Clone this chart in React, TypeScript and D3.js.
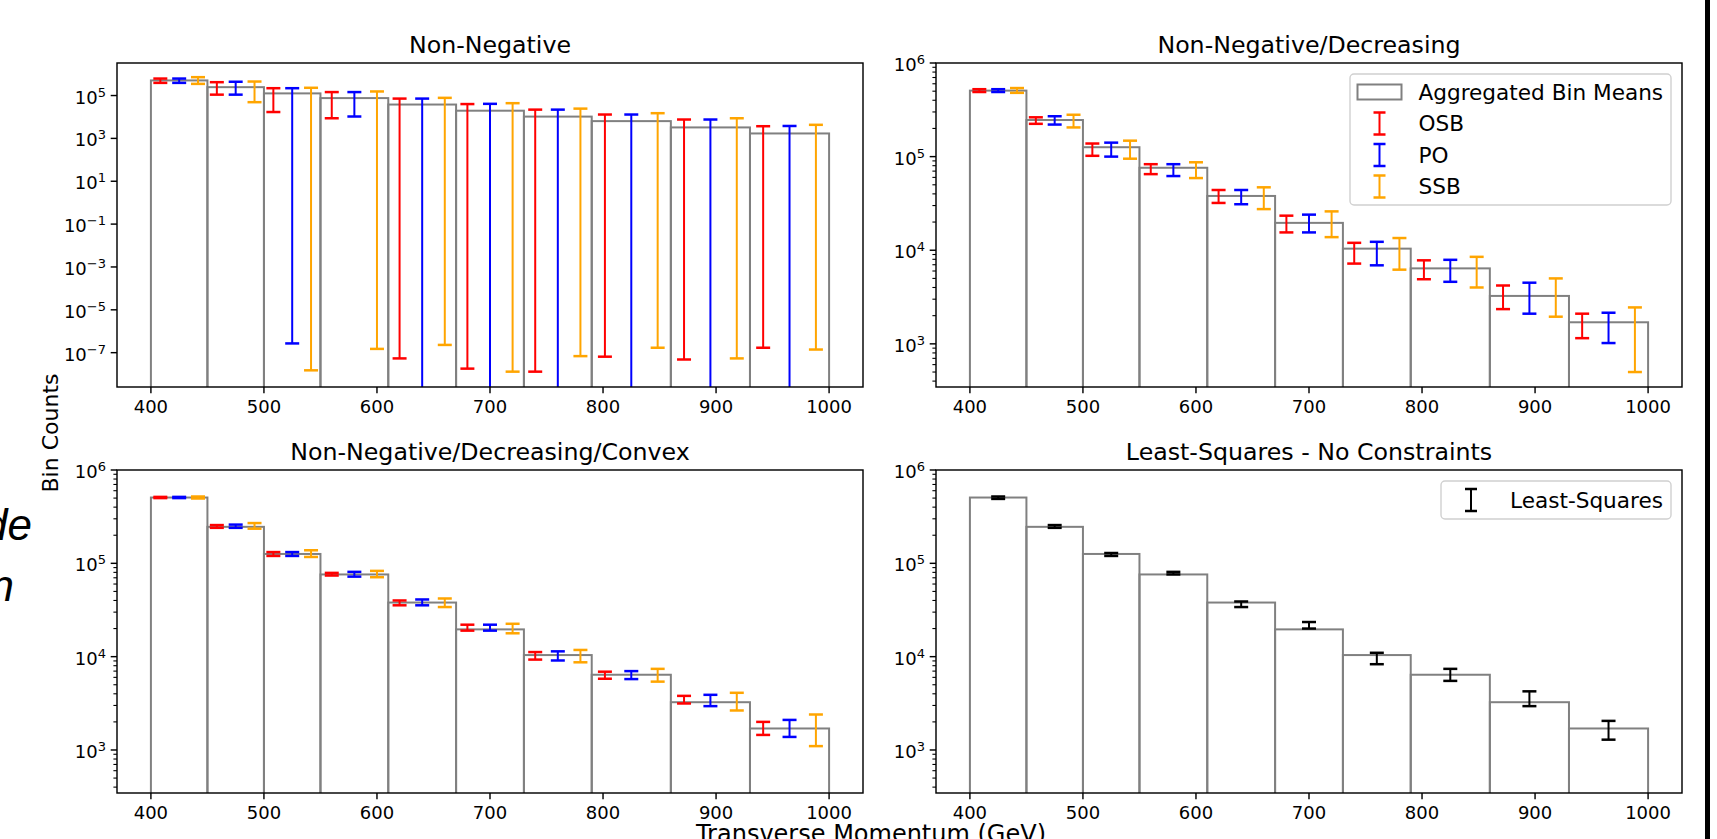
import React from "react";
import * as d3 from "d3";

// ---------- data ----------
const binEdges = [400, 450, 500, 550, 610, 670, 730, 790, 860, 930, 1000];
const binMeans = [5.07e5, 2.46e5, 1.26e5, 7.6e4, 3.8e4, 1.96e4, 1.04e4, 6.4e3, 3.25e3, 1.7e3];
const xTicks = [400, 500, 600, 700, 800, 900, 1000];

// Non-Negative
const nnOsbLo = [3.9e5, 1.1e5, 1.7e4, 8.7e3, 5.4e-8, 1.8e-8, 1.3e-8, 6.5e-8, 4.8e-8, 1.7e-7];
const nnOsbHi = [6.2e5, 4.2e5, 2.2e5, 1.45e5, 7.2e4, 4.0e4, 2.2e4, 1.3e4, 7.6e3, 3.7e3];
const nnPoLo = [3.9e5, 1.1e5, 2.7e-7, 1.05e4, 0, 0, 0, 0, 0, 0];
const nnPoHi = [6.2e5, 4.4e5, 2.2e5, 1.45e5, 7.2e4, 4.1e4, 2.2e4, 1.3e4, 7.6e3, 3.8e3];
const nnSsbLo = [3.5e5, 4.9e4, 1.5e-8, 1.5e-7, 2.3e-7, 1.3e-8, 6.9e-8, 1.7e-7, 5.4e-8, 1.4e-7];
const nnSsbHi = [7.2e5, 4.5e5, 2.3e5, 1.55e5, 7.8e4, 4.4e4, 2.45e4, 1.5e4, 8.7e3, 4.3e3];

// Non-Negative/Decreasing
const ndOsbLo = [4.9e5, 2.24e5, 1.02e5, 6.5e4, 3.2e4, 1.55e4, 7.2e3, 4.9e3, 2.35e3, 1.15e3];
const ndOsbHi = [5.25e5, 2.63e5, 1.38e5, 8.3e4, 4.4e4, 2.34e4, 1.2e4, 7.8e3, 4.2e3, 2.1e3];
const ndPoLo = [4.9e5, 2.2e5, 1.0e5, 6.2e4, 3.1e4, 1.55e4, 6.9e3, 4.6e3, 2.1e3, 1.02e3];
const ndPoHi = [5.25e5, 2.7e5, 1.41e5, 8.3e4, 4.4e4, 2.4e4, 1.23e4, 7.9e3, 4.5e3, 2.15e3];
const ndSsbLo = [4.8e5, 2.05e5, 9.5e4, 5.9e4, 2.75e4, 1.38e4, 6.2e3, 4.0e3, 1.95e3, 500];
const ndSsbHi = [5.4e5, 2.8e5, 1.48e5, 8.7e4, 4.7e4, 2.6e4, 1.35e4, 8.5e3, 5.0e3, 2.45e3];

// Non-Negative/Decreasing/Convex
const ncOsbLo = [5.0e5, 2.4e5, 1.2e5, 7.4e4, 3.55e4, 1.9e4, 9.3e3, 5.8e3, 3.15e3, 1.45e3];
const ncOsbHi = [5.15e5, 2.57e5, 1.32e5, 7.9e4, 4.0e4, 2.2e4, 1.12e4, 6.9e3, 3.8e3, 2.0e3];
const ncPoLo = [5.0e5, 2.4e5, 1.2e5, 7.2e4, 3.55e4, 1.9e4, 9.1e3, 5.75e3, 2.95e3, 1.38e3];
const ncPoHi = [5.15e5, 2.6e5, 1.32e5, 8.1e4, 4.1e4, 2.2e4, 1.14e4, 7.0e3, 3.9e3, 2.1e3];
const ncSsbLo = [4.95e5, 2.35e5, 1.17e5, 7.1e4, 3.4e4, 1.78e4, 8.7e3, 5.4e3, 2.65e3, 1.1e3];
const ncSsbHi = [5.2e5, 2.7e5, 1.38e5, 8.3e4, 4.2e4, 2.25e4, 1.18e4, 7.4e3, 4.1e3, 2.4e3];

// Least-Squares
const lsLo = [4.9e5, 2.4e5, 1.2e5, 7.6e4, 3.4e4, 2.0e4, 8.3e3, 5.5e3, 2.95e3, 1.29e3];
const lsHi = [5.2e5, 2.57e5, 1.29e5, 8.1e4, 3.9e4, 2.35e4, 1.1e4, 7.4e3, 4.25e3, 2.05e3];

const titles = [
  "Non-Negative",
  "Non-Negative/Decreasing",
  "Non-Negative/Decreasing/Convex",
  "Least-Squares - No Constraints",
];
const seriesNames = ["OSB", "PO", "SSB"];
const seriesColors = ["#ff0000", "#0000ff", "#ffa500"];
const nnTicksExp = [5, 3, 1, -1, -3, -5, -7];
const stdTicksExp = [3, 4, 5, 6];

// ---------- layout ----------
const FONT = "'DejaVu Sans', sans-serif";
const TICK_FS = 18;
const TITLE_FS = 23.7;
const LEGEND_FS = 21.6;
const LABEL_FS = 24;
const XDOMAIN: [number, number] = [370, 1030];

type Series = { name: string; color: string; lo: number[]; hi: number[]; pos: "left" | "center" | "right" };

type PanelProps = {
  id: string;
  x0: number;
  y0: number;
  w: number;
  h: number;
  title: string;
  yDomain: [number, number];
  majorExp: number[];
  minor: boolean;
  series: Series[];
  legend: "full" | "ls" | null;
};

function sup(n: number) {
  return n < 0 ? "\u2212" + Math.abs(n) : String(n);
}

function Panel(p: PanelProps) {
  const x = d3.scaleLinear().domain(XDOMAIN).range([p.x0, p.x0 + p.w]);
  const y = d3.scaleLog().domain(p.yDomain).range([p.y0 + p.h, p.y0]);
  const bottom = p.y0 + p.h;
  const yv = (v: number) => (v > 0 ? y(v) : bottom + 20);
  const capHalf = 7;

  const minorTicks: number[] = [];
  if (p.minor) {
    const lo = Math.floor(Math.log10(p.yDomain[0]));
    const hi = Math.ceil(Math.log10(p.yDomain[1]));
    for (let e = lo; e < hi; e++) {
      for (let m = 2; m <= 9; m++) {
        const v = m * Math.pow(10, e);
        if (v >= p.yDomain[0] && v <= p.yDomain[1]) minorTicks.push(v);
      }
    }
  }

  const xPos = (i: number, pos: Series["pos"]) => {
    const a = binEdges[i];
    const b = binEdges[i + 1];
    const c = (a + b) / 2;
    const off = (b - a) / 3;
    return pos === "left" ? c - off : pos === "right" ? c + off : c;
  };

  return (
    <g>
      <defs>
        <clipPath id={p.id}>
          <rect x={p.x0} y={p.y0} width={p.w} height={p.h} />
        </clipPath>
      </defs>
      <g clipPath={`url(#${p.id})`}>
        {binMeans.map((m, i) => (
          <rect
            key={"b" + i}
            x={x(binEdges[i])}
            y={y(m)}
            width={x(binEdges[i + 1]) - x(binEdges[i])}
            height={bottom + 5 - y(m)}
            fill="none"
            stroke="#808080"
            strokeWidth={2}
          />
        ))}
        {p.series.map((s) =>
          s.lo.map((lo, i) => {
            const cx = x(xPos(i, s.pos));
            const yt = y(s.hi[i]);
            const yb = yv(lo);
            return (
              <g key={s.name + i} stroke={s.color} strokeWidth={2}>
                <line x1={cx} x2={cx} y1={yt} y2={yb} />
                <line x1={cx - capHalf} x2={cx + capHalf} y1={yt} y2={yt} strokeWidth={2.5} />
                <line x1={cx - capHalf} x2={cx + capHalf} y1={yb} y2={yb} strokeWidth={2.5} />
              </g>
            );
          })
        )}
      </g>
      {/* frame */}
      <rect x={p.x0} y={p.y0} width={p.w} height={p.h} fill="none" stroke="#000" strokeWidth={1.44} />
      {/* x ticks */}
      {xTicks.map((t) => (
        <g key={"xt" + t}>
          <line x1={x(t)} x2={x(t)} y1={bottom} y2={bottom + 6.3} stroke="#000" strokeWidth={1.44} />
          <text x={x(t)} y={bottom + 26} textAnchor="middle" fontSize={TICK_FS} fontFamily={FONT} fill="#000">
            {t}
          </text>
        </g>
      ))}
      {/* y ticks */}
      {p.majorExp.map((e) => {
        const yy = y(Math.pow(10, e));
        return (
          <g key={"yt" + e}>
            <line x1={p.x0 - 6.3} x2={p.x0} y1={yy} y2={yy} stroke="#000" strokeWidth={1.44} />
            <text x={p.x0 - 11} y={yy + 8} textAnchor="end" fontSize={TICK_FS} fontFamily={FONT} fill="#000">
              <tspan>10</tspan>
              <tspan dy={-7} fontSize={13}>
                {sup(e)}
              </tspan>
            </text>
          </g>
        );
      })}
      {minorTicks.map((v, i) => (
        <line key={"mt" + i} x1={p.x0 - 3.6} x2={p.x0} y1={y(v)} y2={y(v)} stroke="#000" strokeWidth={1.1} />
      ))}
      {/* title */}
      <text x={p.x0 + p.w / 2} y={p.y0 - 10} textAnchor="middle" fontSize={TITLE_FS} fontFamily={FONT} fill="#000">
        {p.title}
      </text>
      {p.legend === "full" && <FullLegend x0={p.x0 + p.w - 11} y0={p.y0 + 11} />}
      {p.legend === "ls" && <LsLegend x0={p.x0 + p.w - 11} y0={p.y0 + 11} />}
    </g>
  );
}

function ErrIcon({ cx, cy, color }: { cx: number; cy: number; color: string }) {
  return (
    <g stroke={color} strokeWidth={2}>
      <line x1={cx} x2={cx} y1={cy - 11} y2={cy + 11} />
      <line x1={cx - 6} x2={cx + 6} y1={cy - 11} y2={cy - 11} strokeWidth={2.5} />
      <line x1={cx - 6} x2={cx + 6} y1={cy + 11} y2={cy + 11} strokeWidth={2.5} />
    </g>
  );
}

function FullLegend({ x0, y0 }: { x0: number; y0: number }) {
  const w = 321;
  const h = 131;
  const left = x0 - w;
  const rows = [y0 + 18, y0 + 49.5, y0 + 81, y0 + 112.5];
  return (
    <g fontFamily={FONT} fontSize={LEGEND_FS}>
      <rect x={left} y={y0} width={w} height={h} rx={4} fill="#fff" fillOpacity={0.8} stroke="#d0d0d0" strokeWidth={1.4} />
      <rect x={left + 7.5} y={rows[0] - 7.5} width={44} height={15} fill="none" stroke="#808080" strokeWidth={2} />
      <text x={left + 68.5} y={rows[0] + 7.5} fill="#000">Aggregated Bin Means</text>
      {seriesNames.map((n, i) => (
        <g key={n}>
          <ErrIcon cx={left + 29.5} cy={rows[i + 1]} color={seriesColors[i]} />
          <text x={left + 68.5} y={rows[i + 1] + 7.5} fill="#000">
            {n}
          </text>
        </g>
      ))}
    </g>
  );
}

function LsLegend({ x0, y0 }: { x0: number; y0: number }) {
  const w = 230;
  const h = 38;
  const left = x0 - w;
  const cy = y0 + 19;
  return (
    <g fontFamily={FONT} fontSize={LEGEND_FS}>
      <rect x={left} y={y0} width={w} height={h} rx={4} fill="#fff" fillOpacity={0.8} stroke="#d0d0d0" strokeWidth={1.4} />
      <ErrIcon cx={left + 30} cy={cy} color="#000" />
      <text x={left + 69} y={cy + 7.5} fill="#000">Least-Squares</text>
    </g>
  );
}

function mk(lo: number[][], hi: number[][]): Series[] {
  const pos: Series["pos"][] = ["left", "center", "right"];
  return seriesNames.map((n, i) => ({ name: n, color: seriesColors[i], lo: lo[i], hi: hi[i], pos: pos[i] }));
}

export default function App() {
  const W = 1717;
  const H = 839;
  const stdDomain: [number, number] = [346, 1e6];
  return (
    <svg
      width={W}
      height={H}
      viewBox={`0 0 ${W} ${H}`}
      style={{ position: "absolute", left: 0, top: 0, background: "#fff" }}
    >
      <rect x={0} y={0} width={W} height={H} fill="#fff" />
      <Panel
        id="c1"
        x0={117}
        y0={63}
        w={746}
        h={324}
        title={titles[0]}
        yDomain={[2.5e-9, 3.3e6]}
        majorExp={nnTicksExp}
        minor={false}
        series={mk([nnOsbLo, nnPoLo, nnSsbLo], [nnOsbHi, nnPoHi, nnSsbHi])}
        legend={null}
      />
      <Panel
        id="c2"
        x0={936}
        y0={63}
        w={746}
        h={324}
        title={titles[1]}
        yDomain={stdDomain}
        majorExp={stdTicksExp}
        minor={true}
        series={mk([ndOsbLo, ndPoLo, ndSsbLo], [ndOsbHi, ndPoHi, ndSsbHi])}
        legend="full"
      />
      <Panel
        id="c3"
        x0={117}
        y0={470}
        w={746}
        h={323}
        title={titles[2]}
        yDomain={stdDomain}
        majorExp={stdTicksExp}
        minor={true}
        series={mk([ncOsbLo, ncPoLo, ncSsbLo], [ncOsbHi, ncPoHi, ncSsbHi])}
        legend={null}
      />
      <Panel
        id="c4"
        x0={936}
        y0={470}
        w={746}
        h={323}
        title={titles[3]}
        yDomain={stdDomain}
        majorExp={stdTicksExp}
        minor={true}
        series={[{ name: "LS", color: "#000", lo: lsLo, hi: lsHi, pos: "center" }]}
        legend="ls"
      />
      {/* shared axis labels */}
      <text
        transform="translate(58,433) rotate(-90)"
        textAnchor="middle"
        fontSize={22}
        fontFamily={FONT}
        fill="#000"
      >
        Bin Counts
      </text>
      <text x={871} y={842} textAnchor="middle" fontSize={LABEL_FS} fontFamily={FONT} fill="#000">
        Transverse Momentum (GeV)
      </text>
      {/* cropped slide remnants */}
      <text x={32} y={540} textAnchor="end" fontSize={44} fontStyle="italic" fontFamily="'Liberation Sans', Arial, sans-serif" fill="#000">
        de
      </text>
      <text x={14} y={601} textAnchor="end" fontSize={44} fontStyle="italic" fontFamily="'Liberation Sans', Arial, sans-serif" fill="#000">
        n
      </text>
      <rect x={1705} y={0} width={5} height={H} fill="#000" />
    </svg>
  );
}
